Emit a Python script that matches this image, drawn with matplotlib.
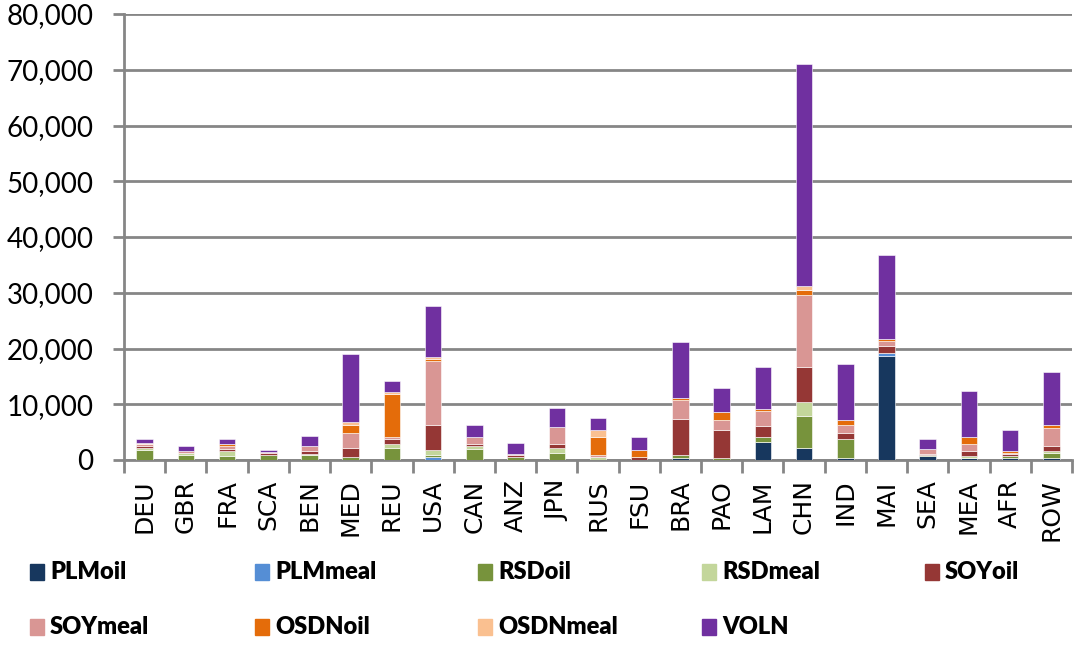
import numpy as np
import matplotlib.pyplot as plt
from matplotlib.patches import Rectangle
from matplotlib.ticker import FuncFormatter

regions = ["DEU", "GBR", "FRA", "SCA", "BEN", "MED", "REU", "USA", "CAN", "ANZ", "JPN", "RUS",
           "FSU", "BRA", "PAO", "LAM", "CHN", "IND", "MAI", "SEA", "MEA", "AFR", "ROW"]

series = ["PLMoil", "PLMmeal", "RSDoil", "RSDmeal", "SOYoil", "SOYmeal", "OSDNoil", "OSDNmeal", "VOLN"]
colors = ["#17375E", "#558ED5", "#77933C", "#C3D69B", "#953735", "#D99694", "#E46C0A", "#FAC090", "#7030A0"]

# values in 1000s, per region in the order above
PLMoil   = [0, 0, 0, 0, 0, 0, 0, 0, 0, 0, 0, 0, 0, 0.35, 0, 3.25, 2.1, 0.4, 18.7, 0.8, 0.4, 0.4, 0.4]
PLMmeal  = [0, 0, 0, 0, 0, 0, 0, 0.5, 0, 0, 0, 0, 0, 0, 0, 0, 0, 0, 0.5, 0, 0, 0, 0]
RSDoil   = [1.8, 0.85, 0.8, 0.9, 0.9, 0.5, 2.1, 0.35, 2.05, 0.5, 1.2, 0, 0, 0.5, 0.35, 0.85, 5.8, 3.3, 0, 0.1, 0, 0.35, 0.8]
RSDmeal  = [0.35, 0.35, 0.9, 0.05, 0.1, 0.1, 0.85, 0.9, 0.5, 0, 0.9, 0.5, 0, 0, 0, 0, 2.5, 0, 0, 0, 0.35, 0, 0.4]
SOYoil   = [0.35, 0, 0.35, 0.3, 0.7, 1.6, 0.8, 4.55, 0.4, 0.35, 0.85, 0, 0.5, 6.5, 5.0, 2.05, 6.3, 1.2, 1.25, 0.25, 0.85, 0.25, 0.85]
SOYmeal  = [0.4, 0.45, 0.45, 0.15, 0.85, 2.6, 0.45, 11.4, 1.25, 0.2, 2.95, 0.35, 0, 3.5, 1.75, 2.65, 12.9, 1.4, 0.9, 0.85, 1.25, 0.3, 3.35]
OSDNoil  = [0.05, 0, 0.4, 0, 0, 1.55, 7.6, 0.4, 0, 0, 0, 3.35, 1.25, 0.35, 1.55, 0.35, 0.85, 0.85, 0.35, 0, 1.25, 0.35, 0.4]
OSDNmeal = [0.05, 0, 0, 0, 0, 0.5, 0.35, 0.35, 0, 0, 0, 1.25, 0, 0, 0, 0, 0.8, 0, 0, 0, 0, 0, 0]
VOLN     = [0.8, 0.85, 0.85, 0.4, 1.7, 12.2, 2.1, 9.25, 2.15, 2.0, 3.35, 2.1, 2.45, 10.0, 4.2, 7.55, 39.7, 10.0, 15.05, 1.7, 8.35, 3.7, 9.6]

data = [PLMoil, PLMmeal, RSDoil, RSDmeal, SOYoil, SOYmeal, OSDNoil, OSDNmeal, VOLN]

fig = plt.figure(figsize=(10.78, 6.57), dpi=100)
ax = fig.add_axes([124 / 1078, 1 - 460 / 657, 948 / 1078, 446 / 657])

x = np.arange(len(regions))
bottom = np.zeros(len(regions))
for name, vals, c in zip(series, data, colors):
    v = np.array(vals) * 1000
    ax.bar(x, v, 0.4, bottom=bottom, color=c, edgecolor="white", linewidth=0.4, label=name, zorder=3)
    bottom += v

grid_c = "#868686"
ax.set_ylim(0, 80000)
ax.set_yticks(np.arange(0, 80001, 10000))
ax.yaxis.set_major_formatter(FuncFormatter(lambda v, p: f"{int(v):,}"))
ax.grid(axis="y", color=grid_c, linewidth=2.0, zorder=0)
ax.set_axisbelow(True)

ax.set_xlim(-0.5, len(regions) - 0.5)
ax.set_xticks(x)
ax.set_xticklabels(regions, rotation=90, fontsize=18, family="DejaVu Sans")
ax.set_xticks(np.arange(-0.5, len(regions)), minor=True)
ax.tick_params(axis="x", which="major", length=0, pad=14)
ax.tick_params(axis="x", which="minor", length=9, width=2.0, color=grid_c)
ax.tick_params(axis="y", length=8, width=2.0, color=grid_c, pad=14, labelsize=20)
for lab in ax.get_yticklabels():
    lab.set_family("Lato")

for s in ["top", "right"]:
    ax.spines[s].set_visible(False)
for s in ["left", "bottom"]:
    ax.spines[s].set_color(grid_c)
    ax.spines[s].set_linewidth(2.0)

# legend, two rows of five
col_x = [30, 255, 478, 702, 925]
row_y = [572, 627]
for i, (name, c) in enumerate(zip(series, colors)):
    r, k = divmod(i, 5)
    px, py = col_x[k], row_y[r]
    fig.patches.append(Rectangle((px / 1078, 1 - (py + 8) / 657), 14 / 1078, 16 / 657,
                                 transform=fig.transFigure, color=c))
    fig.text((px + 20) / 1078, 1 - py / 657, name, fontsize=17, fontweight="heavy",
             family="Lato", va="center", ha="left")

fig.savefig("out.png", dpi=100)
